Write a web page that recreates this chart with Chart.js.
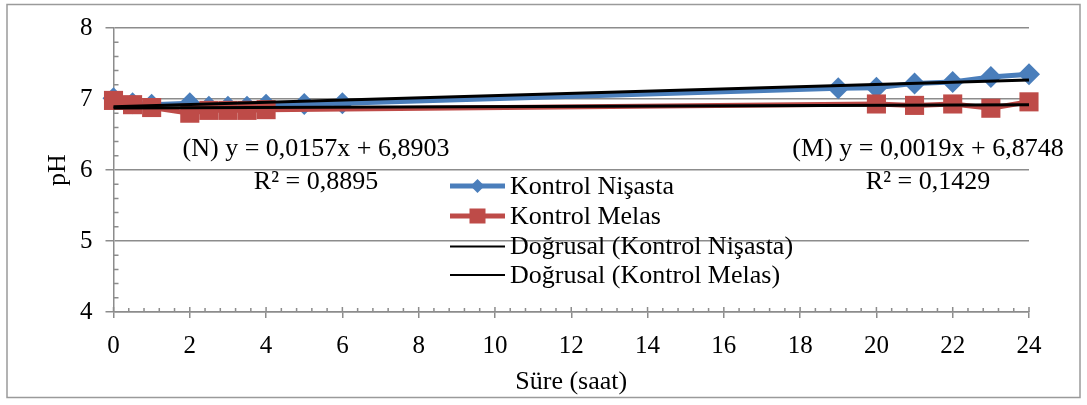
<!DOCTYPE html>
<html>
<head>
<meta charset="utf-8">
<script src="https://cdn.jsdelivr.net/npm/chart.js@4"></script>
<style>
    html, body { margin: 0; padding: 0; background: #ffffff; }
    #wrap { width: 1087px; height: 405px; }
</style>
</head>
<body>
<div id="wrap"><canvas id="phChart" width="1087" height="405"></canvas></div>
<script>
"use strict";

// saat (hours) and pH values
const hoursNisasta = [0, 0.5, 1, 2, 2.5, 3, 3.5, 4, 5, 6, 19, 20, 21, 22, 23, 24];
const phNisasta = [7.01, 6.94, 6.92, 6.94, 6.89, 6.89, 6.89, 6.92, 6.93, 6.94, 7.15, 7.16, 7.22, 7.24, 7.31, 7.35];

const hoursMelas = [0, 0.5, 1, 2, 2.5, 3, 3.5, 4, 20, 21, 22, 23, 24];
const phMelas = [6.98, 6.92, 6.88, 6.80, 6.84, 6.84, 6.84, 6.85, 6.93, 6.91, 6.93, 6.87, 6.96];

// linear trendlines as given in the chart (slope, intercept)
const trendNisasta = [0.0157, 6.8903];
const trendMelas = [0.0019, 6.8748];
const trendRange = [0, 24];

const seriesNames = ["Kontrol Nişasta", "Kontrol Melas", "Doğrusal (Kontrol Nişasta)", "Doğrusal (Kontrol Melas)"];
const equationN = ["(N) y = 0,0157x + 6,8903", "R² = 0,8895"];
const equationM = ["(M) y = 0,0019x + 6,8748", "R² = 0,1429"];

const xTitle = "Süre (saat)";
const yTitle = "pH";

const BLUE = "#4A7EBB";
const RED = "#BE4B48";
const GRAY = "#8c8c8c";
const FONT = "'Liberation Serif', 'Times New Roman', serif";

function toPoints(xs, ys) {
    return xs.map((x, i) => ({x: x, y: ys[i]}));
}

function trendPoints(coef) {
    return trendRange.map((x) => ({x: x, y: coef[0] * x + coef[1]}));
}

// frame round the whole chart
const framePlugin = {
    id: "frame",
    beforeDraw(chart) {
        const ctx = chart.ctx;
        ctx.save();
        ctx.fillStyle = "#ffffff";
        ctx.fillRect(0, 0, chart.width, chart.height);
        ctx.strokeStyle = "#9a9a9a";
        ctx.lineWidth = 1.5;
        ctx.strokeRect(7, 4.5, 1073, 393);
        ctx.restore();
    }
};

// small inside ticks, like the Excel minor tick marks
const minorTicksPlugin = {
    id: "minorTicks",
    beforeDatasetsDraw(chart) {
        const ctx = chart.ctx;
        const xs = chart.scales.x;
        const ys = chart.scales.y;
        const axisY = ys.getPixelForValue(4);
        const axisX = xs.getPixelForValue(0);
        ctx.save();
        ctx.strokeStyle = GRAY;
        ctx.lineWidth = 1.5;
        ctx.beginPath();
        for (let i = 1; i < 20; i += 1) {
            if (i % 5 === 0) continue;
            let py = ys.getPixelForValue(4 + i * 0.2);
            ctx.moveTo(axisX, py);
            ctx.lineTo(axisX + 5, py);
        }
        for (let i = 0; i <= 60; i += 1) {
            let px = xs.getPixelForValue(i * 0.4);
            let len = (i % 5 === 0) ? 5 : 4;
            ctx.moveTo(px, axisY);
            ctx.lineTo(px, axisY - len);
        }
        ctx.stroke();
        ctx.restore();
    }
};

// trendline equations and the legend, drawn inside the plot
const labelsPlugin = {
    id: "labels",
    afterDraw(chart) {
        const ctx = chart.ctx;
        ctx.save();
        ctx.fillStyle = "#000000";
        ctx.font = "26px " + FONT;
        ctx.textBaseline = "middle";
        ctx.textAlign = "center";
        ctx.fillText(equationN[0], 316, 149);
        ctx.fillText(equationN[1], 316, 182);
        ctx.fillText(equationM[0], 928, 149);
        ctx.fillText(equationM[1], 928, 182);

        const rows = [186, 216, 246.5, 275];
        const x0 = 450, x1 = 505, xm = 477.5;

        // Kontrol Nişasta
        ctx.strokeStyle = BLUE;
        ctx.fillStyle = BLUE;
        ctx.lineWidth = 5;
        ctx.beginPath();
        ctx.moveTo(x0, rows[0]);
        ctx.lineTo(x1, rows[0]);
        ctx.stroke();
        ctx.beginPath();
        ctx.moveTo(xm, rows[0] - 7);
        ctx.lineTo(xm + 7, rows[0]);
        ctx.lineTo(xm, rows[0] + 7);
        ctx.lineTo(xm - 7, rows[0]);
        ctx.closePath();
        ctx.fill();

        // Kontrol Melas
        ctx.strokeStyle = RED;
        ctx.fillStyle = RED;
        ctx.beginPath();
        ctx.moveTo(x0, rows[1]);
        ctx.lineTo(x1, rows[1]);
        ctx.stroke();
        ctx.fillRect(xm - 8, rows[1] - 7.5, 16, 15);

        // trendlines
        ctx.strokeStyle = "#000000";
        ctx.lineWidth = 2;
        ctx.beginPath();
        ctx.moveTo(x0, rows[2]);
        ctx.lineTo(x1, rows[2]);
        ctx.moveTo(x0, rows[3]);
        ctx.lineTo(x1, rows[3]);
        ctx.stroke();

        ctx.fillStyle = "#000000";
        ctx.textAlign = "left";
        for (let i = 0; i < seriesNames.length; i += 1) {
            ctx.fillText(seriesNames[i], 510, rows[i] + 1);
        }
        ctx.restore();
    }
};

const ctx = document.getElementById("phChart");

new Chart(ctx, {
    type: "line",
    data: {
        datasets: [{
            label: seriesNames[2],
            data: trendPoints(trendNisasta),
            borderColor: "#000000",
            borderWidth: 3,
            pointRadius: 0,
            clip: false,
            order: 0
        }, {
            label: seriesNames[3],
            data: trendPoints(trendMelas),
            borderColor: "#000000",
            borderWidth: 3,
            pointRadius: 0,
            clip: false,
            order: 0
        }, {
            label: seriesNames[1],
            data: toPoints(hoursMelas, phMelas),
            borderColor: RED,
            backgroundColor: RED,
            borderWidth: 5,
            pointStyle: "rect",
            pointRadius: 13.5,
            pointBorderWidth: 0,
            clip: false,
            order: 1
        }, {
            label: seriesNames[0],
            data: toPoints(hoursNisasta, phNisasta),
            borderColor: BLUE,
            backgroundColor: BLUE,
            borderWidth: 5,
            pointStyle: "rectRot",
            pointRadius: 11,
            pointBorderWidth: 0,
            clip: false,
            order: 2
        }]
    },
    options: {
        responsive: false,
        animation: false,
        layout: {
            padding: {top: 21, right: 58, left: 0, bottom: 0}
        },
        plugins: {
            legend: {display: false},
            tooltip: {enabled: false}
        },
        scales: {
            x: {
                type: "linear",
                min: 0,
                max: 24,
                afterFit: (scale) => { scale.height = 93; },
                ticks: {
                    stepSize: 2,
                    color: "#000000",
                    padding: 13,
                    font: {family: FONT, size: 25}
                },
                grid: {
                    drawOnChartArea: false,
                    drawTicks: true,
                    tickLength: 6,
                    color: GRAY,
                    lineWidth: 1.5
                },
                border: {color: GRAY, width: 1.5},
                title: {
                    display: true,
                    text: xTitle,
                    color: "#000000",
                    padding: {top: 0, bottom: 7},
                    font: {family: FONT, size: 26}
                }
            },
            y: {
                min: 4,
                max: 8,
                afterFit: (scale) => { scale.width = 113.5; },
                ticks: {
                    stepSize: 1,
                    color: "#000000",
                    padding: 13,
                    font: {family: FONT, size: 25}
                },
                grid: {
                    drawTicks: true,
                    tickLength: 8,
                    color: GRAY,
                    lineWidth: 1.5
                },
                border: {color: GRAY, width: 1.5},
                title: {
                    display: true,
                    text: yTitle,
                    color: "#000000",
                    padding: {top: 43, bottom: 0},
                    font: {family: FONT, size: 26}
                }
            }
        }
    },
    plugins: [framePlugin, minorTicksPlugin, labelsPlugin]
});
</script>
</body>
</html>
